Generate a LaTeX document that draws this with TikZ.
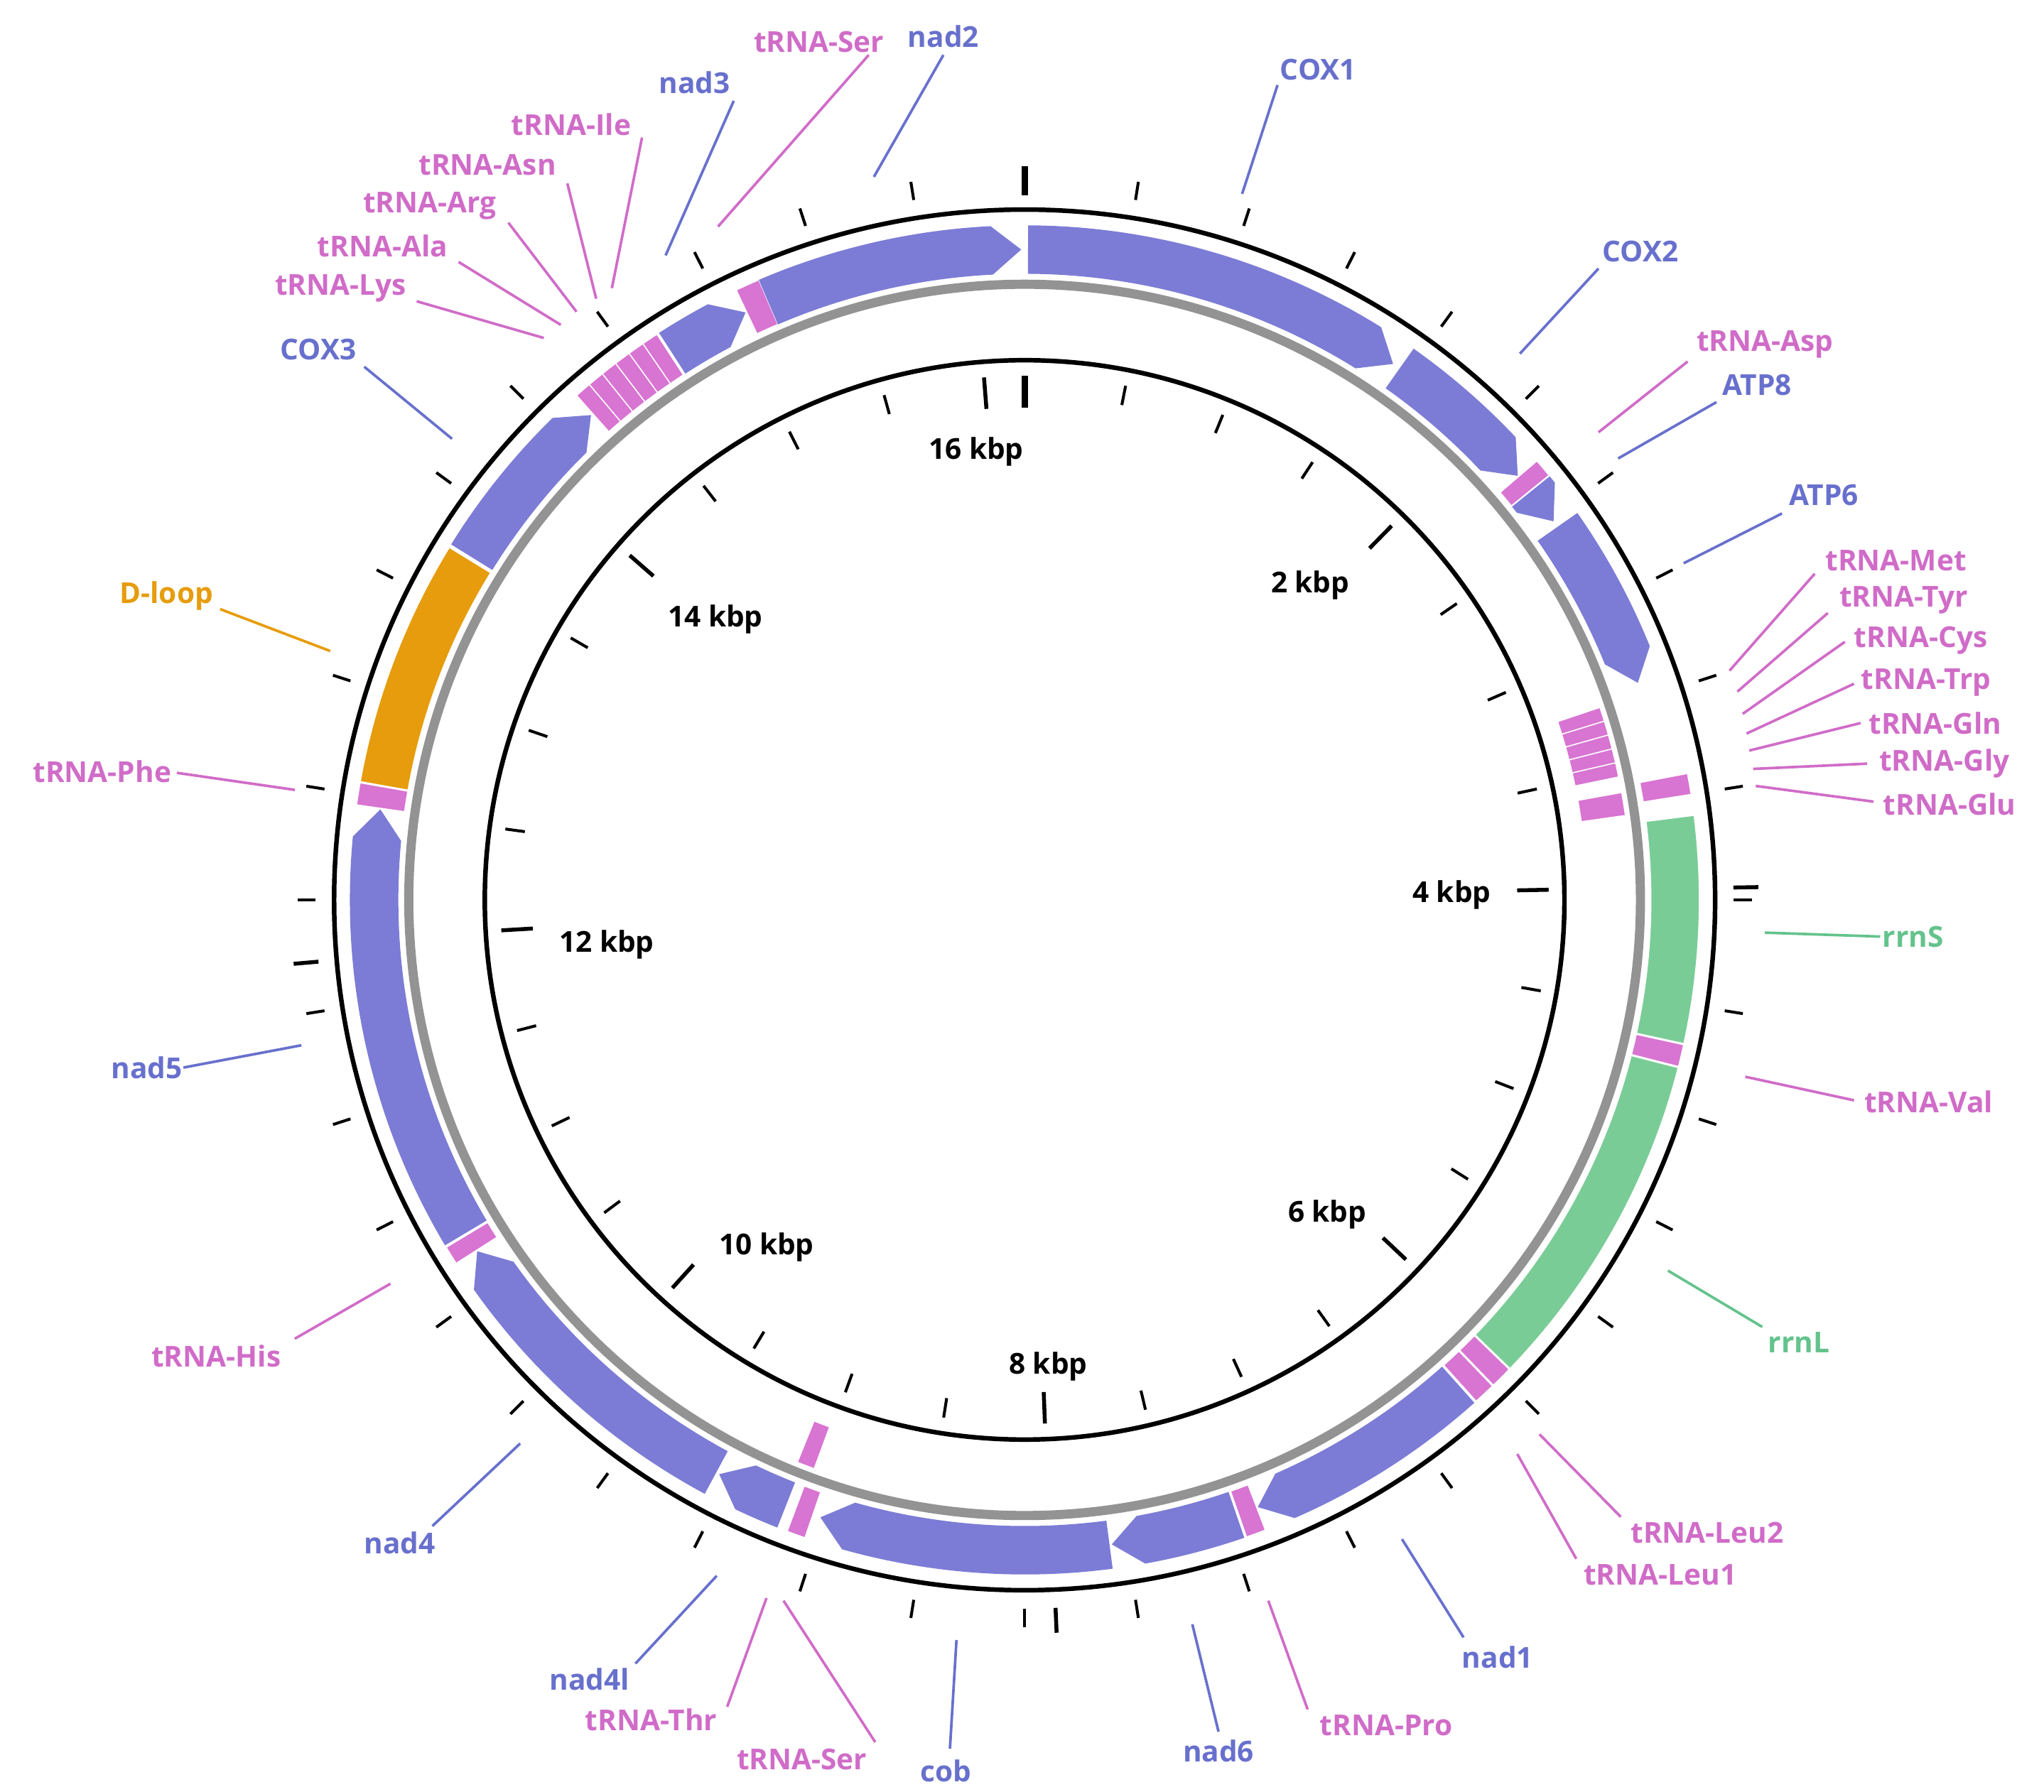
\documentclass[tikz,border=0pt]{standalone}
\usepackage{fontspec}
\setmainfont{Open Sans}
\definecolor{gb}{RGB}{124,124,214}
\definecolor{gp}{RGB}{216,116,210}
\definecolor{gg}{RGB}{122,204,150}
\definecolor{go}{RGB}{230,156,12}
\definecolor{tb}{RGB}{104,112,205}
\definecolor{tp}{RGB}{208,108,200}
\definecolor{tg}{RGB}{100,195,140}
\newcommand\feat[6]{%
 \pgfmathsetmacro\aA{90-#1}\pgfmathsetmacro\aB{90-#2}%
 \ifnum#4=1
  \pgfmathsetmacro\aC{\aB+2.6}\pgfmathsetmacro\rmid{(#5+#6)/2}%
  \fill[#3] (\aA:#5) arc[start angle=\aA,end angle=\aC,radius=#5] -- (\aB:\rmid) -- (\aC:#6) arc[start angle=\aC,end angle=\aA,radius=#6] -- cycle;
 \else
  \filldraw[fill=#3,draw=white,line width=0.8] (\aA:#5) arc[start angle=\aA,end angle=\aB,radius=#5] -- (\aB:#6) arc[start angle=\aB,end angle=\aA,radius=#6] -- cycle;
 \fi}
\newcommand\og[4]{\feat{#1}{#2}{#3}{#4}{478}{515}}
\newcommand\ig[4]{\feat{#1}{#2}{#3}{#4}{429}{463}}
\tikzset{lab/.style={font=\fontsize{22}{26}\selectfont\bfseries},
 kb/.style={font=\fontsize{22}{26}\selectfont\bfseries},
 ll/.style={line width=2}}
\begin{document}
\begin{tikzpicture}[x=1pt,y=1pt]
\useasboundingbox (-782,-681) rectangle (778,687);
% circles
\draw[line width=3.5] (0,0) circle (527);
\draw[line width=3.5] (0,0) circle (412);
\draw[line width=7,gray!85] (0,0) circle (470);
% inner ticks every 500 bp, L = 16200
\foreach \i in {0,...,32}{
 \pgfmathsetmacro\t{90-\i*360/32.4}
 \draw[line width=2.2] (\t:385) -- (\t:400);}
\foreach \i in {1,...,8}{
 \pgfmathsetmacro\t{90-\i*360/8.1}
 \draw[line width=3] (\t:376) -- (\t:400);}
\draw[line width=5] (90:376) -- (90:400);
% outer ticks
\foreach \i in {0,...,39}{
 \pgfmathsetmacro\t{90-\i*9}
 \draw[line width=2.2] (\t:541) -- (\t:555);}
\foreach \t in {90,1,-87.5,-175}{\draw[line width=3] (\t:541) -- (\t:560);}
\draw[line width=5] (90:538) -- (90:560);
% kbp labels
\node[kb] (k16) at (745-782,687-345) {16 kbp};
\node[kb] (k2) at (1000-782,687-447) {2 kbp};
\node[kb] (k4) at (1108-782,687-683) {4 kbp};
\node[kb] (k6) at (1013-782,687-927) {6 kbp};
\node[kb] (k8) at (800-782,687-1043) {8 kbp};
\node[kb] (k10) at (585-782,687-952) {10 kbp};
\node[kb] (k12) at (463-782,687-721) {12 kbp};
\node[kb] (k14) at (546-782,687-473) {14 kbp};
% features
\og{0.3}{34.5}{gb}{1}
\og{35.2}{49.3}{gb}{1}
\og{49.4}{51}{gp}{0}
\og{51.1}{54.4}{gb}{1}
\og{55}{70.5}{gb}{1}
\foreach \s in {0,...,4}{\pgfmathsetmacro\u{71.5+\s*1.36}\pgfmathsetmacro\v{\u+1.36}\ig{\u}{\v}{gp}{0}}
\ig{79.8}{82}{gp}{0}
\og{79.2}{81}{gp}{0}
\og{82.8}{102.3}{gg}{0}
\og{102.4}{104.3}{gp}{0}
\og{104.4}{134}{gg}{0}
\og{134.1}{136}{gp}{0}
\og{136.1}{138}{gp}{0}
\og{138.2}{159}{gb}{1}
\og{159.1}{160.8}{gp}{0}
\og{161}{172.3}{gb}{1}
\og{172.5}{198.3}{gb}{1}
\og{199}{200.6}{gp}{0}
\ig{200.3}{202}{gp}{0}
\og{201.5}{208}{gb}{1}
\og{208.3}{237.3}{gb}{1}
\og{237.4}{239}{gp}{0}
\og{239.2}{278}{gb}{1}
\og{278.1}{280}{gp}{0}
\og{280.1}{301.5}{go}{0}
\og{301.8}{318.2}{gb}{1}
\foreach \s in {0,...,5}{\pgfmathsetmacro\u{318.4+\s*1.43}\pgfmathsetmacro\v{\u+1.43}\og{\u}{\v}{gp}{0}}
\og{327.2}{334.6}{gb}{1}
\og{334.7}{336.8}{gp}{0}
\og{336.8}{359.7}{gb}{1}
% labels: name, colour, label pos, line start, line end (display coords)
\foreach \n/\s/\lx/\ly/\ax/\ay/\bx/\by [count=\k] in {
 tRNA-Ser/tp/625/32/663/42/548/173,
 nad2/tb/720/28/720/42/667/135,
 nad3/tb/530/63/560/77/508/195,
 tRNA-Ile/tp/436/95/490/105/467/220,
 tRNA-Asn/tp/372/126/433/140/455/228,
 tRNA-Arg/tp/328/157/388/170/440/238,
 tRNA-Ala/tp/292/188/350/200/428/248,
 tRNA-Lys/tp/260/220/318/230/415/258,
 COX3/tb/243/267/278/280/345/335,
 D-loop/go/127/455/168/465/252/497,
 tRNA-Phe/tp/78/589/135/590/225/603,
 nad5/tb/112/815/140/815/230/798,
 tRNA-His/tp/165/1035/225/1022/298/980,
 nad4/tb/305/1178/330/1165/397/1102,
 nad4l/tb/450/1282/485/1270/547/1203,
 tRNA-Thr/tp/497/1313/555/1303/585/1220,
 tRNA-Ser/tp/612/1343/668/1330/598/1222,
 cob/tb/722/1352/725/1335/730/1252,
 nad6/tb/930/1337/930/1322/910/1240,
 tRNA-Pro/tp/1058/1317/998/1305/968/1222,
 nad1/tb/1143/1265/1117/1250/1070/1175,
 tRNA-Leu1/tp/1267/1202/1203/1190/1158/1110,
 tRNA-Leu2/tp/1303/1170/1237/1158/1175/1095,
 rrnL/tg/1373/1025/1345/1013/1273/970,
 tRNA-Val/tp/1472/841/1415/840/1332/822,
 rrnS/tg/1460/715/1435/715/1347/712,
 tRNA-Glu/tp/1488/614/1430/612/1340/600,
 tRNA-Gly/tp/1484/583/1425/583/1338/587,
 tRNA-Gln/tp/1477/552/1420/552/1335/573,
 tRNA-Trp/tp/1470/521/1415/522/1333/560,
 tRNA-Cys/tp/1466/489/1408/490/1330/545,
 tRNA-Tyr/tp/1453/458/1395/468/1326/528,
 tRNA-Met/tp/1447/428/1385/438/1320/512,
 ATP6/tb/1392/378/1360/392/1285/430,
 ATP8/tb/1341/294/1310/307/1235/350,
 tRNA-Asp/tp/1347/263/1288/276/1220/330,
 COX2/tb/1252/192/1220/205/1160/270,
 COX1/tb/1006/53/975/65/948/148}{
 \coordinate (a\k) at (\ax-782,687-\ay);
 \coordinate (b\k) at (\bx-782,687-\by);
 \draw[ll,color=\s] (a\k) -- (b\k);
 \node[lab,text=\s] (n\k) at (\lx-782,687-\ly) {\n};
}
\end{tikzpicture}
\end{document}
